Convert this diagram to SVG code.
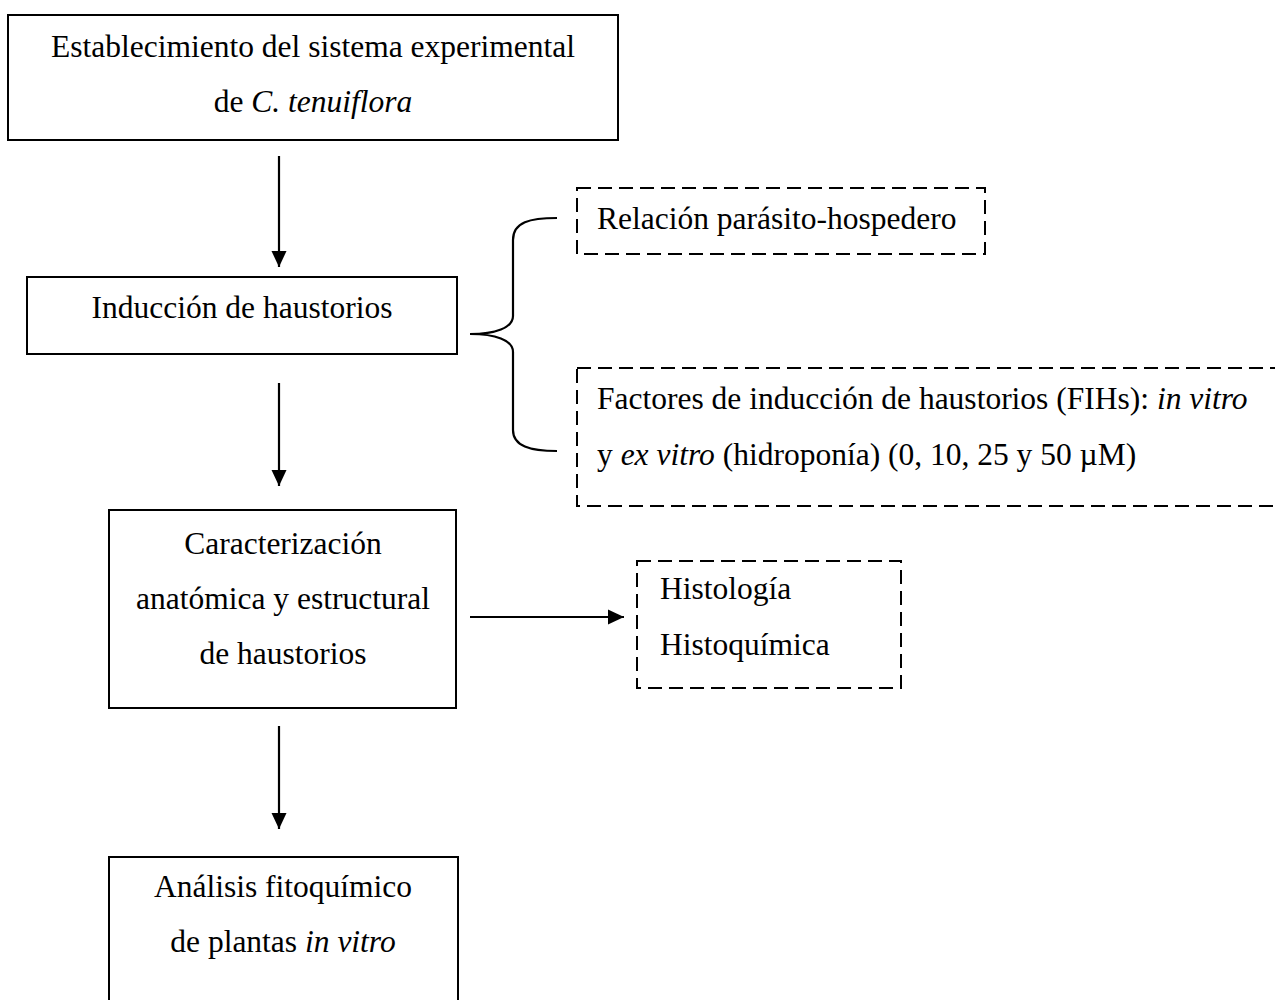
<svg xmlns="http://www.w3.org/2000/svg" width="1275" height="1000" viewBox="0 0 1275 1000">
<style>
.box{fill:#fff;stroke:#000;stroke-width:2}
.dbox{fill:none;stroke:#000;stroke-width:2;stroke-dasharray:14 7}
.t{font-family:"Liberation Serif","Times New Roman",serif;font-size:31.5px;fill:#000}
.c{text-anchor:middle}
.i{font-style:italic}
.ln{stroke:#000;stroke-width:2.2;fill:none}
</style>
<defs>
<marker id="ah" markerWidth="10" markerHeight="10" refX="9" refY="5" orient="auto" markerUnits="userSpaceOnUse" viewBox="0 0 10 10">
<path d="M0,0 L10,5 L0,10 Z" fill="#000"/>
</marker>
<marker id="ah2" markerWidth="16" markerHeight="16" refX="16" refY="8" orient="auto" markerUnits="userSpaceOnUse" viewBox="0 0 16 16">
<path d="M0,0.5 L16,8 L0,15.5 Z" fill="#000"/>
</marker>
</defs>
<rect width="1275" height="1000" fill="#fff"/>
<g id="connectors">
<line class="ln" x1="279" y1="156" x2="279" y2="267" marker-end="url(#ah2)"/>
<line class="ln" x1="279" y1="383" x2="279" y2="486" marker-end="url(#ah2)"/>
<line class="ln" x1="279" y1="726" x2="279" y2="829" marker-end="url(#ah2)"/>
<line class="ln" x1="470" y1="617" x2="624" y2="617" marker-end="url(#ah2)"/>
<path class="ln" d="M557,218 C530,218 513,222 513,240 L513,316 C513,328 495,334 470,334 C495,334 513,340 513,352 L513,430 C513,446 530,451 557,451"/>
</g>
<g id="n1">
<rect class="box" x="8" y="15" width="610" height="125"/>
<text class="t c" x="313" y="57">Establecimiento del sistema experimental</text>
<text class="t c" x="313" y="112">de <tspan class="i">C. tenuiflora</tspan></text>
</g>
<g id="n2">
<rect class="box" x="27" y="277" width="430" height="77"/>
<text class="t c" x="242" y="318">Inducción de haustorios</text>
</g>
<g id="n3">
<rect class="dbox" x="577" y="188" width="408" height="66"/>
<text class="t" x="597" y="229">Relación parásito-hospedero</text>
</g>
<g id="n4">
<rect class="dbox" x="577" y="368" width="720" height="138"/>
<text class="t" x="597" y="409">Factores de inducción de haustorios (FIHs): <tspan class="i">in vitro</tspan></text>
<text class="t" x="597" y="465">y <tspan class="i">ex vitro</tspan> (hidroponía) (0, 10, 25 y 50 µM)</text>
</g>
<g id="n5">
<rect class="box" x="109" y="510" width="347" height="198"/>
<text class="t c" x="283" y="554">Caracterización</text>
<text class="t c" x="283" y="609">anatómica y estructural</text>
<text class="t c" x="283" y="664">de haustorios</text>
</g>
<g id="n6">
<rect class="dbox" x="637" y="561" width="264" height="127"/>
<text class="t" x="660" y="599">Histología</text>
<text class="t" x="660" y="655">Histoquímica</text>
</g>
<g id="n7">
<rect class="box" x="109" y="857" width="349" height="160"/>
<text class="t c" x="283" y="897">Análisis fitoquímico</text>
<text class="t c" x="283" y="952">de plantas <tspan class="i">in vitro</tspan></text>
</g>
</svg>
